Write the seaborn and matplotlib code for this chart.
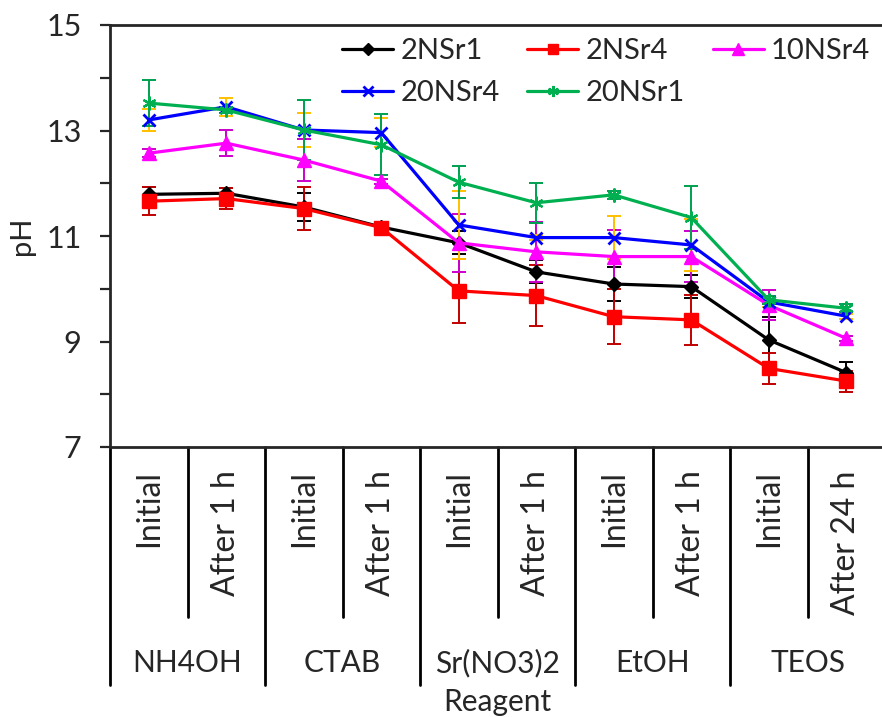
import matplotlib
matplotlib.use("Agg")
import matplotlib.pyplot as plt
import matplotlib.transforms as mtransforms
import numpy as np
import seaborn as sns

# x categories: step within each reagent stage
steps = ["Initial", "After 1 h", "Initial", "After 1 h", "Initial",
         "After 1 h", "Initial", "After 1 h", "Initial", "After 24 h"]
reagents = ["NH4OH", "CTAB", "Sr(NO3)2", "EtOH", "TEOS"]

samples = ["2NSr1", "2NSr4", "10NSr4", "20NSr4", "20NSr1"]

ph_2nsr1 = [11.79, 11.81, 11.55, 11.17, 10.87, 10.32, 10.09, 10.04, 9.03, 8.41]
err_2nsr1 = [0.14, 0.10, 0.27, 0.05, 0.22, 0.22, 0.32, 0.22, 0.44, 0.20]

ph_2nsr4 = [11.66, 11.71, 11.52, 11.16, 9.96, 9.87, 9.47, 9.41, 8.49, 8.25]
err_2nsr4 = [0.27, 0.20, 0.40, 0.05, 0.60, 0.58, 0.52, 0.48, 0.29, 0.20]

ph_10nsr4 = [12.57, 12.76, 12.44, 12.04, 10.87, 10.70, 10.61, 10.61, 9.69, 9.06]
err_10nsr4 = [0.08, 0.25, 0.40, 0.05, 0.55, 0.57, 0.50, 0.48, 0.29, 0.05]

ph_20nsr4 = [13.20, 13.45, 13.01, 12.96, 11.21, 10.97, 10.97, 10.83, 9.75, 9.48]
err_20nsr4 = [0.20, 0.17, 0.32, 0.27, 0.65, 0.05, 0.40, 0.50, 0.10, 0.05]

ph_20nsr1 = [13.52, 13.39, 13.01, 12.73, 12.02, 11.63, 11.78, 11.35, 9.79, 9.63]
err_20nsr1 = [0.43, 0.05, 0.56, 0.58, 0.30, 0.38, 0.07, 0.60, 0.08, 0.08]

series = {
    "2NSr1": (ph_2nsr1, err_2nsr1),
    "2NSr4": (ph_2nsr4, err_2nsr4),
    "10NSr4": (ph_10nsr4, err_10nsr4),
    "20NSr4": (ph_20nsr4, err_20nsr4),
    "20NSr1": (ph_20nsr1, err_20nsr1),
}

styles = {
    "2NSr1": dict(color="black", ecolor="black", marker="D", ms=7.5, mew=1),
    "2NSr4": dict(color="#FF0000", ecolor="#C00000", marker="s", ms=9.5, mew=1),
    "10NSr4": dict(color="#FF00FF", ecolor="#CC00CC", marker="^", ms=10, mew=1),
    "20NSr4": dict(color="#0000FF", ecolor="#FFC000", marker="x", ms=9, mew=2),
    "20NSr1": dict(color="#00B050", ecolor="#00A050", marker=(6, 2, 0), ms=10, mew=1.6),
}

sns.set_style("ticks")
plt.rcParams["font.family"] = ["Lato", "DejaVu Sans"]

fig = plt.figure(figsize=(8.82, 7.17), dpi=100)
ax = fig.add_axes([110 / 882, 270 / 717, 775 / 882, 422 / 717])

x = np.arange(len(steps))
for i, name in enumerate(samples):
    vals, errs = series[name]
    st = styles[name]
    ax.errorbar(x, vals, yerr=errs, fmt="none", ecolor=st["ecolor"],
                elinewidth=1.4, capsize=5, capthick=1.4, zorder=2 + i * 0.1)
    sns.lineplot(x=x, y=vals, ax=ax, color=st["color"], marker=st["marker"],
                 markersize=st["ms"], markeredgewidth=st["mew"],
                 markeredgecolor=st["color"], linewidth=2.3, label=name,
                 zorder=3 + i * 0.1)

ax.set_xlim(-0.5, 9.5)
ax.set_ylim(7, 15)
ax.set_yticks([7, 9, 11, 13, 15])
ax.set_yticks([8, 10, 12, 14], minor=True)
ax.tick_params(axis="y", which="both", length=7.5, width=1.6, direction="out")
ax.tick_params(axis="y", labelsize=22, pad=13)
ax.set_xticks([])
ax.set_xlabel("")
ax.set_ylabel("")
for side in ["left", "top", "bottom"]:
    ax.spines[side].set_linewidth(2)
ax.spines["right"].set_visible(False)

fig.text(22 / 882, 1 - 236 / 717, "pH", rotation=90, ha="center",
         va="center", fontsize=21)

# legend: rows 2NSr1 / 2NSr4 / 10NSr4, then 20NSr4 / 20NSr1
handles, labels = ax.get_legend_handles_labels()
lookup = dict(zip(labels, handles))
order = ["2NSr1", "20NSr4", "2NSr4", "20NSr1", "10NSr4"]
ax.legend([lookup[k] for k in order], order, ncol=3, frameon=False,
          loc="upper left", bbox_to_anchor=(342 / 882, 1 - 38 / 717),
          bbox_transform=fig.transFigure, fontsize=21, handlelength=1.75,
          handletextpad=0.25, columnspacing=0.95, labelspacing=0.55,
          borderpad=0, borderaxespad=0, markerscale=0.8)

# hierarchical category axis below the plot
trans = mtransforms.blended_transform_factory(ax.transData, ax.transAxes)
for i, lab in enumerate(steps):
    ax.text(i, -0.055, lab, rotation=90, ha="center", va="top",
            fontsize=23, transform=trans)
for k in range(len(reagents)):
    ax.plot([2 * k + 0.5] * 2, [0, -0.403], color="black", lw=2,
            transform=trans, clip_on=False)
    ax.plot([2 * k - 0.5] * 2, [0, -0.564], color="black", lw=2,
            transform=trans, clip_on=False)
    ax.text(2 * k + 0.5, -0.512, reagents[k], ha="center", va="center",
            fontsize=21.5, transform=trans)
ax.text(0.5, -0.605, "Reagent", ha="center", va="center", fontsize=21.5,
        transform=ax.transAxes)

fig.savefig("out.png", dpi=100)
